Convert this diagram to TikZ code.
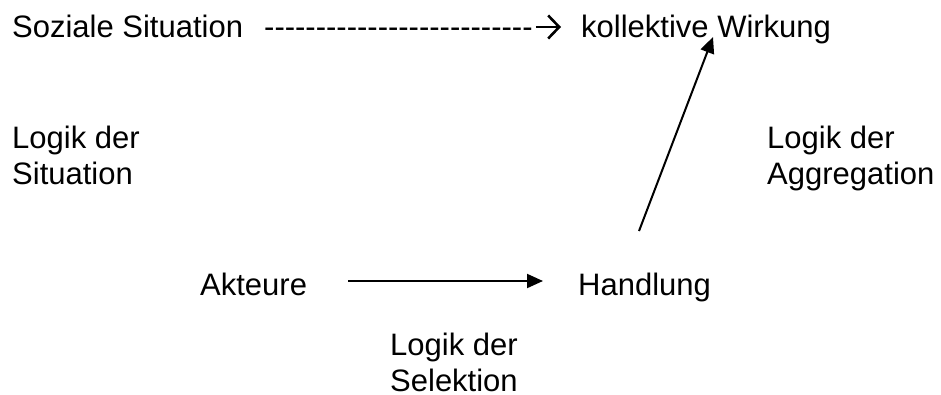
\documentclass[tikz,border=0pt]{standalone}
\usepackage{fontspec}
\setmainfont{Liberation Sans}
\usepackage{tikz}
\usetikzlibrary{arrows.meta, positioning, calc}
% hyphens kept apart so that no dash ligature is formed
\newcommand{\hy}{-\kern0pt}
\newcommand{\hyrow}{\foreach \i in {1,...,26}{\hy}}

\begin{document}
\begin{tikzpicture}[
    x=1pt, y=-1pt,
    lbl/.style={inner sep=0pt, anchor=base west, align=left, font=\fontsize{31}{36}\selectfont},
    arrow/.style={-{Triangle[length=16pt, width=14pt]}, line width=2pt},
    chevron/.style={-{Straight Barb[length=11pt, width=23pt, line width=2.6pt]}, line width=2.4pt}
  ]
  \useasboundingbox (0,0) rectangle (941,394);
  \node[lbl] (sit) at (12,37) {Soziale Situation};
  \node[lbl] (dash) at (264,37) {\hyrow};
  \node[lbl] (wir) at (581,37) {kollektive Wirkung};
  \node[lbl] (lsit) at (12,184) {Logik der\\Situation};
  \node[lbl] (lagg) at (767,184) {Logik der\\Aggregation};
  \node[lbl] (akt) at (200,295) {Akteure};
  \node[lbl] (han) at (578,295) {Handlung};
  \node[lbl] (lsel) at (390,391) {Logik der\\Selektion};
  \draw[chevron] ([shift={(3pt,10pt)}]dash.base east) -- ([shift={(-20pt,10pt)}]wir.base west);
  \draw[arrow] ([shift={(41pt,14pt)}]akt.base east) -- ([shift={(-35pt,14pt)}]han.base west);
  \draw[arrow] ([shift={(61pt,64pt)}]han.base west) -- ([shift={(132pt,0pt)}]wir.base west);
\end{tikzpicture}
\end{document}
